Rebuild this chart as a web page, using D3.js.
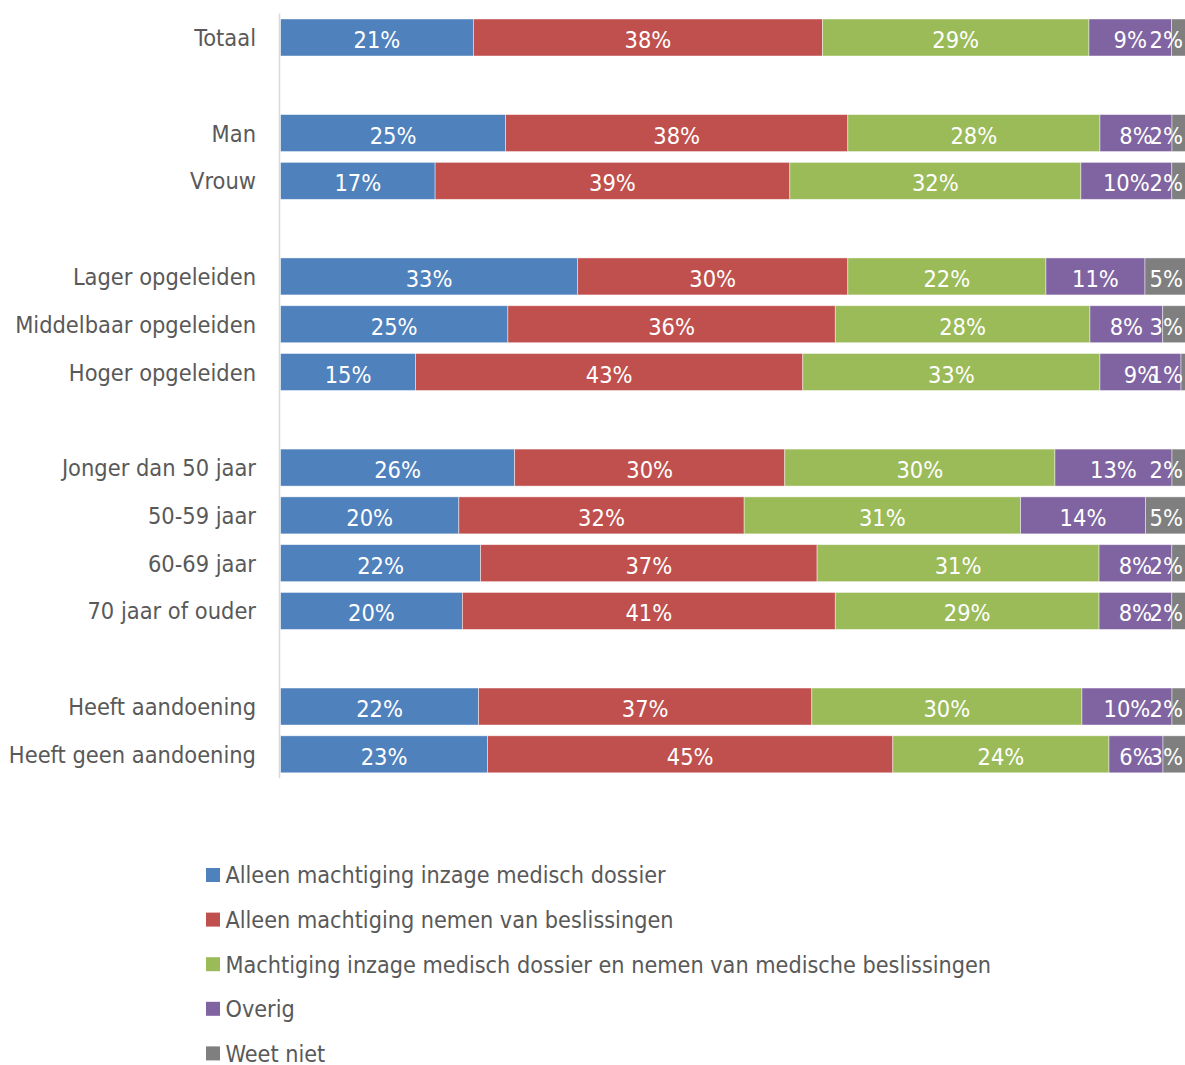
<!DOCTYPE html>
<html>
<head>
<meta charset="utf-8">
<script src="https://cdn.jsdelivr.net/npm/d3@7/dist/d3.min.js"></script>
<style>
  html, body { margin: 0; padding: 0; background: #fff; }
  svg { display: block; font-family: "DejaVu Sans Condensed", "DejaVu Sans", sans-serif; font-stretch: condensed; }
</style>
</head>
<body>
<svg id="chart" width="1185" height="1065"></svg>
<script>
// Row labels, grouped; an empty row separates consecutive groups
const categories = [
  "Totaal",
  "Man", "Vrouw",
  "Lager opgeleiden", "Middelbaar opgeleiden", "Hoger opgeleiden",
  "Jonger dan 50 jaar", "50-59 jaar", "60-69 jaar", "70 jaar of ouder",
  "Heeft aandoening", "Heeft geen aandoening"
];
const groupSizes = [1, 2, 3, 4, 2];

// Series names (legend order = stacking order)
const seriesNames = [
  "Alleen machtiging inzage medisch dossier",
  "Alleen machtiging nemen van beslissingen",
  "Machtiging inzage medisch dossier en nemen van medische beslissingen",
  "Overig",
  "Weet niet"
];

// Percentages per row
const inzageDossier  = [21, 25, 17, 33, 25, 15, 26, 20, 22, 20, 22, 23];
const beslissingen   = [38, 38, 39, 30, 36, 43, 30, 32, 37, 41, 37, 45];
const inzageEnBeslis = [29, 28, 32, 22, 28, 33, 30, 31, 31, 29, 30, 24];
const overig         = [ 9,  8, 10, 11,  8,  9, 13, 14,  8,  8, 10,  6];
const weetNiet       = [ 2,  2,  2,  5,  3,  1,  2,  5,  2,  2,  2,  3];

const seriesValues = [inzageDossier, beslissingen, inzageEnBeslis, overig, weetNiet];
const colors = ["#4F81BD", "#C0504D", "#9BBB59", "#8064A2", "#7F7F7F"];

const rows = categories.map((cat, i) => {
  const r = { cat };
  seriesNames.forEach((s, k) => { r[s] = seriesValues[k][i]; });
  return r;
});

// Slot keys: categories with a spacer between groups
const slots = [];
let idx = 0;
groupSizes.forEach((n, g) => {
  for (let j = 0; j < n; j++) slots.push(categories[idx++]);
  if (g < groupSizes.length - 1) slots.push("__spacer" + g);
});

const svg = d3.select("#chart");
const plotLeft = 280.5, plotRight = 1190;
const plotTop = 13.6, plotBottom = 778.2;

const x = d3.scaleLinear().domain([0, 1]).range([plotLeft, plotRight]);
const y = d3.scaleBand().domain(slots).range([plotTop, plotBottom])
  .paddingInner(0.226).paddingOuter(0.113);

const stack = d3.stack().keys(seriesNames).offset(d3.stackOffsetExpand);
const stacked = stack(rows);

// Bars
const layers = svg.append("g").selectAll("g")
  .data(stacked).join("g")
  .attr("fill", (d, i) => colors[i]);

layers.selectAll("rect")
  .data(d => d.map(p => ({ p, key: d.key })))
  .join("rect")
  .attr("x", d => x(d.p[0]))
  .attr("y", d => y(d.p.data.cat))
  .attr("width", d => x(d.p[1]) - x(d.p[0]))
  .attr("height", y.bandwidth())
  .attr("stroke", "#ffffff")
  .attr("stroke-opacity", 0.55)
  .attr("stroke-width", 0.8);

// Category axis line
svg.append("line")
  .attr("x1", 279.5).attr("x2", 279.5)
  .attr("y1", plotTop).attr("y2", plotBottom)
  .attr("stroke", "#D9D9D9").attr("stroke-width", 1.5);

// Category labels
svg.append("g").selectAll("text")
  .data(categories).join("text")
  .attr("x", 256)
  .attr("y", d => y(d) + y.bandwidth() / 2 + 8.5)
  .attr("text-anchor", "end")
  .attr("fill", "#595959")
  .attr("font-size", 23.4)
  .text(d => d);

// Value labels, kept inside the visible chart area
const labelLimit = 1183;
layers.each(function (layer) {
  d3.select(this).selectAll("text")
    .data(layer.map(p => ({ p, v: p.data[layer.key] })))
    .join("text")
    .attr("y", d => y(d.p.data.cat) + y.bandwidth() / 2 + 10.5)
    .attr("fill", "#ffffff")
    .attr("font-size", 23.4)
    .attr("text-anchor", "middle")
    .text(d => d.v + "%")
    .attr("x", function (d) {
      const cx = (x(d.p[0]) + x(d.p[1])) / 2;
      const w = this.getComputedTextLength();
      return Math.min(cx, labelLimit - w / 2);
    });
});

// Legend
const legend = svg.append("g").selectAll("g")
  .data(seriesNames).join("g")
  .attr("transform", (d, i) => `translate(206, ${875 + i * 44.6})`);

legend.append("rect")
  .attr("x", 0).attr("y", -7)
  .attr("width", 14).attr("height", 14)
  .attr("fill", (d, i) => colors[i]);

legend.append("text")
  .attr("x", 19.5).attr("y", 8.3)
  .attr("fill", "#595959")
  .attr("font-size", 23.2)
  .text(d => d);
</script>
</body>
</html>
